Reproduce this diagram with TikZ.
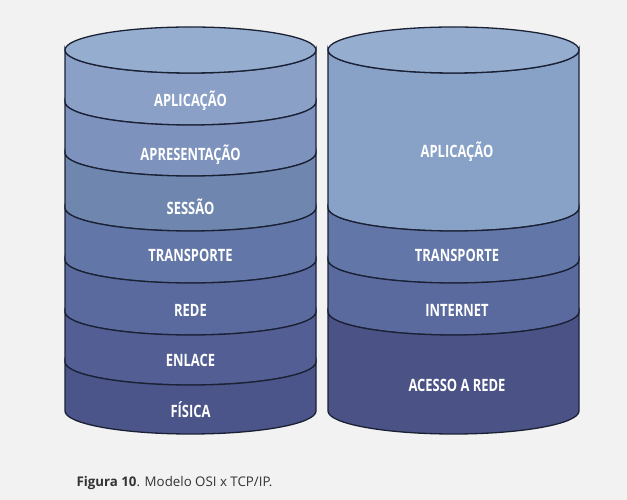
\documentclass[tikz,border=0pt]{standalone}
\usepackage{fontspec}
\setmainfont{Open Sans}
\newfontfamily\layerfont[FakeStretch=0.76]{Open Sans}

\definecolor{bgcol}{HTML}{F2F2F2}
\definecolor{edgecol}{HTML}{1B2135}
\definecolor{topcol}{HTML}{95AED0}
\definecolor{osiA}{HTML}{8AA0C6}
\definecolor{osiB}{HTML}{7D92BD}
\definecolor{osiC}{HTML}{6F87AE}
\definecolor{osiD}{HTML}{6276A8}
\definecolor{osiE}{HTML}{5A6A9E}
\definecolor{osiF}{HTML}{535F94}
\definecolor{osiG}{HTML}{4B5589}
\definecolor{tcpA}{HTML}{88A1C6}
\definecolor{tcpD}{HTML}{4B5386}
\definecolor{capcol}{HTML}{333333}

\begin{document}
\begin{tikzpicture}[x=1pt,y=1pt,
		band/.style={draw=edgecol,line width=1.3pt},
		layer/.style={text=white,font=\layerfont\bfseries\fontsize{17}{19}\selectfont}]

		\fill[bgcol] (0,0) rectangle (627,500);
		\useasboundingbox (0,0) rectangle (627,500);

		% OSI
		\foreach \hi/\lo/\col in {450/398/osiA,398/347/osiB,347/292/osiC,292/240/osiD,240/188/osiE,188/138/osiF,138/89/osiG}
			\filldraw[band,fill=\col] (65,\hi) -- (65,\lo)
				arc[start angle=180,end angle=360,x radius=125.5,y radius=23] -- (316,\hi)
				arc[start angle=0,end angle=-180,x radius=125.5,y radius=23] -- cycle;
		\filldraw[band,fill=topcol] (190.5,450) ellipse[x radius=125.5,y radius=23];

		% TCP/IP
		\foreach \hi/\lo/\col in {450/292/tcpA,292/240/osiD,240/188/osiE,188/89/tcpD}
			\filldraw[band,fill=\col] (328,\hi) -- (328,\lo)
				arc[start angle=180,end angle=360,x radius=125.5,y radius=23] -- (579,\hi)
				arc[start angle=0,end angle=-180,x radius=125.5,y radius=23] -- cycle;
		\filldraw[band,fill=topcol] (453.5,450) ellipse[x radius=125.5,y radius=23];

		\node[layer] (aplicacao) at (190.5,399) {APLICAÇÃO};
		\node[layer] (apresentacao) at (190.5,345) {APRESENTAÇÃO};
		\node[layer] (sessao) at (190.5,293) {SESSÃO};
		\node[layer] (transporte) at (190.5,245) {TRANSPORTE};
		\node[layer] (rede) at (190.5,190) {REDE};
		\node[layer] (enlace) at (190.5,140) {ENLACE};
		\node[layer] (fisica) at (190.5,90) {FÍSICA};

		\node[layer] (tcpaplicacao) at (457,348) {APLICAÇÃO};
		\node[layer] (tcptransporte) at (457,245) {TRANSPORTE};
		\node[layer] (internet) at (457,190) {INTERNET};
		\node[layer] (acesso) at (457,115) {ACESSO A REDE};

		\node[anchor=west,text=capcol,font=\fontsize{13.3}{15}\selectfont] (legenda) at (73,17)
			{\textbf{Figura 10}. Modelo OSI x TCP/IP.};

	\end{tikzpicture}
\end{document}
